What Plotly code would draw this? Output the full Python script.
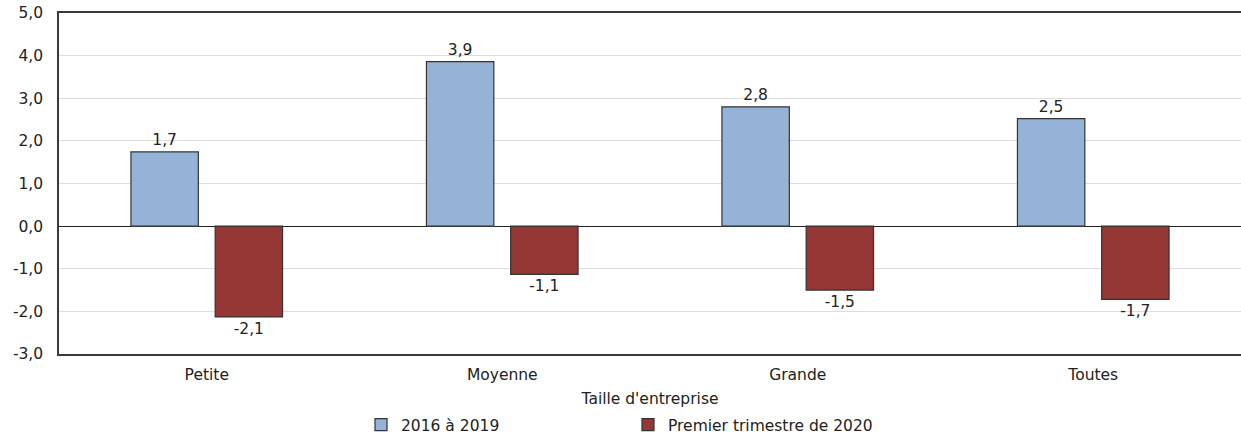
import plotly.graph_objects as go

categories = ["Petite", "Moyenne", "Grande", "Toutes"]
series_2016_2019 = [1.74, 3.86, 2.8, 2.52]
series_t1_2020 = [-2.13, -1.13, -1.5, -1.72]
series_names = ["2016 à 2019", "Premier trimestre de 2020"]
y_ticks = [-3, -2, -1, 0, 1, 2, 3, 4, 5]
y_tick_labels = ["-3,0", "-2,0", "-1,0", "0,0", "1,0", "2,0", "3,0", "4,0", "5,0"]


def fr(v):
    return f"{v:.1f}".replace(".", ",")


FONT = "DejaVu Sans"
FS = 15.5
W, H = 1241, 435

fig = go.Figure()
fig.add_trace(go.Bar(
    x=categories, y=series_2016_2019, name=series_names[0],
    marker=dict(color="#95B3D7", line=dict(color="#333333", width=1.2)),
    text=[fr(v) for v in series_2016_2019], textposition="outside",
    textfont=dict(family=FONT, size=FS, color="#222222"),
    cliponaxis=False,
))
fig.add_trace(go.Bar(
    x=categories, y=series_t1_2020, name=series_names[1],
    marker=dict(color="#953735", line=dict(color="#333333", width=1.2)),
    text=[fr(v) for v in series_t1_2020], textposition="outside",
    textfont=dict(family=FONT, size=FS, color="#222222"),
    cliponaxis=False,
))

fig.update_layout(
    width=W, height=H,
    margin=dict(l=59, r=0, t=13, b=81, autoexpand=False),
    plot_bgcolor="white", paper_bgcolor="white",
    barmode="group", bargap=0.43, bargroupgap=0.2,
    font=dict(family=FONT, size=FS, color="#222222"),
    showlegend=True,
    legend=dict(orientation="h", xref="container", yref="container",
                x=361 / W, xanchor="left", y=10 / H, yanchor="middle",
                entrywidth=222, entrywidthmode="pixels",
                font=dict(family=FONT, size=FS, color="#222222"),
                itemwidth=30, tracegroupgap=0),
)
fig.update_xaxes(
    title=dict(text="Taille d'entreprise", standoff=10, font=dict(family=FONT, size=FS)),
    showline=True, linecolor="#3A3A3A", linewidth=1.5, mirror=True,
    ticks="", showgrid=False, ticklabelstandoff=6,
)
fig.update_yaxes(
    range=[-3, 5], tickvals=y_ticks, ticktext=y_tick_labels,
    showgrid=True, gridcolor="#DDDDDD", gridwidth=1,
    zeroline=True, zerolinecolor="#222222", zerolinewidth=1,
    showline=True, linecolor="#3A3A3A", linewidth=1.5,
    ticks="", ticklabelstandoff=11,
)

fig.write_html("out.html", config={"displayModeBar": False},
               post_script="document.body.style.margin='0';")
